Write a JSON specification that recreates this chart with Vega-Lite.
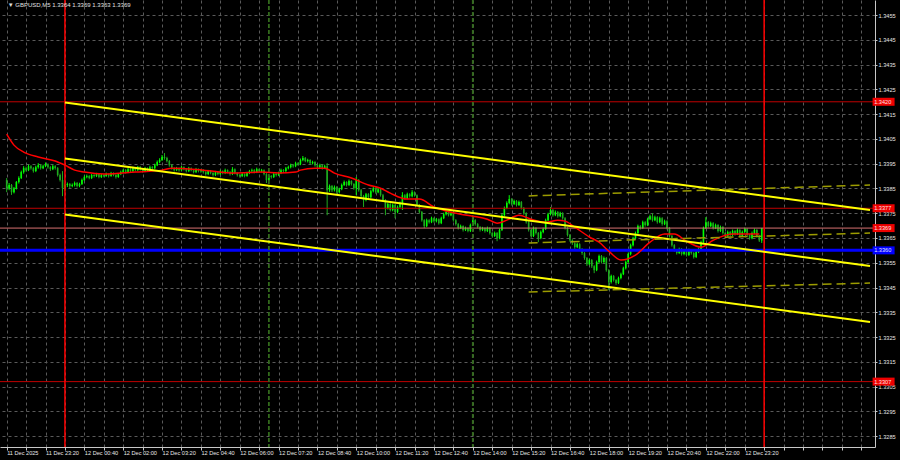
{
"$schema":"https://vega.github.io/schema/vega-lite/v6.json",
"width":875,"height":447,
"autosize":{"type":"none"},
"padding":{"left":0,"top":0,"right":25,"bottom":13},
"background":"#000000",
"view":{"stroke":null},
"config":{"axis":{"domainColor":"#c8c8c8","tickColor":"#c8c8c8","labelColor":"#e6e6e6","gridColor":"#5a5a5a","gridDash":[3,3],"gridWidth":1,"labelFont":"Liberation Sans","labelFontSize":5.6,"titleFontSize":0,"labelOverlap":false,"labelFlush":false,"labelBound":false}},
"datasets":{
"k":[
{"i":0,"o":1.33884,"h":1.33892,"l":1.33835,"c":1.33851},
{"i":1,"o":1.33851,"h":1.33872,"l":1.33843,"c":1.33864},
{"i":2,"o":1.33864,"h":1.33868,"l":1.33824,"c":1.33835},
{"i":3,"o":1.33835,"h":1.33856,"l":1.3383,"c":1.33851},
{"i":4,"o":1.33851,"h":1.3388,"l":1.33846,"c":1.33876},
{"i":5,"o":1.33876,"h":1.33899,"l":1.3387,"c":1.33892},
{"i":6,"o":1.33892,"h":1.33922,"l":1.33888,"c":1.33916},
{"i":7,"o":1.33916,"h":1.3394,"l":1.3391,"c":1.33932},
{"i":8,"o":1.33932,"h":1.33938,"l":1.33918,"c":1.33924},
{"i":9,"o":1.33924,"h":1.33946,"l":1.3392,"c":1.3394},
{"i":10,"o":1.3394,"h":1.33944,"l":1.33926,"c":1.33932},
{"i":11,"o":1.33932,"h":1.33936,"l":1.33914,"c":1.3392},
{"i":12,"o":1.3392,"h":1.33942,"l":1.33916,"c":1.33936},
{"i":13,"o":1.33936,"h":1.33952,"l":1.3393,"c":1.33944},
{"i":14,"o":1.33944,"h":1.33948,"l":1.33926,"c":1.33932},
{"i":15,"o":1.33932,"h":1.33946,"l":1.33928,"c":1.3394},
{"i":16,"o":1.3394,"h":1.33955,"l":1.33936,"c":1.33948},
{"i":17,"o":1.33948,"h":1.33951,"l":1.3393,"c":1.33936},
{"i":18,"o":1.33936,"h":1.3394,"l":1.33921,"c":1.33928},
{"i":19,"o":1.33928,"h":1.33945,"l":1.33924,"c":1.3394},
{"i":20,"o":1.3394,"h":1.33944,"l":1.33926,"c":1.33932},
{"i":21,"o":1.33932,"h":1.33936,"l":1.33898,"c":1.33904},
{"i":22,"o":1.33904,"h":1.3391,"l":1.33878,"c":1.33884},
{"i":23,"o":1.33884,"h":1.3392,"l":1.33819,"c":1.33851},
{"i":24,"o":1.33851,"h":1.3387,"l":1.3384,"c":1.33864},
{"i":25,"o":1.33864,"h":1.33874,"l":1.33856,"c":1.33868},
{"i":26,"o":1.33868,"h":1.33872,"l":1.33852,"c":1.3386},
{"i":27,"o":1.3386,"h":1.3387,"l":1.33855,"c":1.33864},
{"i":28,"o":1.33864,"h":1.33878,"l":1.33858,"c":1.33872},
{"i":29,"o":1.33872,"h":1.33876,"l":1.33854,"c":1.3386},
{"i":30,"o":1.3386,"h":1.33873,"l":1.33855,"c":1.33868},
{"i":31,"o":1.33868,"h":1.3389,"l":1.33864,"c":1.33884},
{"i":32,"o":1.33884,"h":1.33902,"l":1.3388,"c":1.33896},
{"i":33,"o":1.33896,"h":1.33906,"l":1.33891,"c":1.339},
{"i":34,"o":1.339,"h":1.33904,"l":1.33887,"c":1.33892},
{"i":35,"o":1.33892,"h":1.33909,"l":1.33888,"c":1.33904},
{"i":36,"o":1.33904,"h":1.33908,"l":1.33894,"c":1.339},
{"i":37,"o":1.339,"h":1.33913,"l":1.33896,"c":1.33908},
{"i":38,"o":1.33908,"h":1.33911,"l":1.33891,"c":1.33896},
{"i":39,"o":1.33896,"h":1.33909,"l":1.33892,"c":1.33904},
{"i":40,"o":1.33904,"h":1.33907,"l":1.33895,"c":1.339},
{"i":41,"o":1.339,"h":1.33914,"l":1.33897,"c":1.33908},
{"i":42,"o":1.33908,"h":1.33911,"l":1.33894,"c":1.339},
{"i":43,"o":1.339,"h":1.33917,"l":1.33897,"c":1.33912},
{"i":44,"o":1.33912,"h":1.33915,"l":1.33899,"c":1.33904},
{"i":45,"o":1.33904,"h":1.33908,"l":1.3389,"c":1.33896},
{"i":46,"o":1.33896,"h":1.33912,"l":1.33893,"c":1.33908},
{"i":47,"o":1.33908,"h":1.33922,"l":1.33904,"c":1.33916},
{"i":48,"o":1.33916,"h":1.33929,"l":1.33911,"c":1.33924},
{"i":49,"o":1.33924,"h":1.33928,"l":1.3391,"c":1.33916},
{"i":50,"o":1.33916,"h":1.33934,"l":1.33912,"c":1.33928},
{"i":51,"o":1.33928,"h":1.33932,"l":1.33915,"c":1.3392},
{"i":52,"o":1.3392,"h":1.33938,"l":1.33916,"c":1.33932},
{"i":53,"o":1.33932,"h":1.33936,"l":1.33919,"c":1.33924},
{"i":54,"o":1.33924,"h":1.33941,"l":1.3392,"c":1.33936},
{"i":55,"o":1.33936,"h":1.3394,"l":1.33922,"c":1.33928},
{"i":56,"o":1.33928,"h":1.33931,"l":1.33914,"c":1.3392},
{"i":57,"o":1.3392,"h":1.33937,"l":1.33916,"c":1.33932},
{"i":58,"o":1.33932,"h":1.33935,"l":1.33919,"c":1.33924},
{"i":59,"o":1.33924,"h":1.33942,"l":1.3392,"c":1.33936},
{"i":60,"o":1.33936,"h":1.3394,"l":1.33926,"c":1.33932},
{"i":61,"o":1.33932,"h":1.3395,"l":1.33928,"c":1.33944},
{"i":62,"o":1.33944,"h":1.33963,"l":1.3394,"c":1.33957},
{"i":63,"o":1.33957,"h":1.33972,"l":1.33952,"c":1.33965},
{"i":64,"o":1.33965,"h":1.33985,"l":1.33961,"c":1.33977},
{"i":65,"o":1.33977,"h":1.33993,"l":1.33966,"c":1.33973},
{"i":66,"o":1.33973,"h":1.33978,"l":1.33955,"c":1.33961},
{"i":67,"o":1.33961,"h":1.33965,"l":1.33938,"c":1.33944},
{"i":68,"o":1.33944,"h":1.33948,"l":1.33926,"c":1.33932},
{"i":69,"o":1.33932,"h":1.33936,"l":1.33918,"c":1.33924},
{"i":70,"o":1.33924,"h":1.33937,"l":1.3392,"c":1.33932},
{"i":71,"o":1.33932,"h":1.33935,"l":1.33918,"c":1.33924},
{"i":72,"o":1.33924,"h":1.33941,"l":1.3392,"c":1.33936},
{"i":73,"o":1.33936,"h":1.33939,"l":1.33923,"c":1.33928},
{"i":74,"o":1.33928,"h":1.33932,"l":1.33915,"c":1.3392},
{"i":75,"o":1.3392,"h":1.33937,"l":1.33916,"c":1.33932},
{"i":76,"o":1.33932,"h":1.33935,"l":1.33919,"c":1.33924},
{"i":77,"o":1.33924,"h":1.33928,"l":1.33911,"c":1.33916},
{"i":78,"o":1.33916,"h":1.33933,"l":1.33912,"c":1.33928},
{"i":79,"o":1.33928,"h":1.33931,"l":1.33915,"c":1.3392},
{"i":80,"o":1.3392,"h":1.33929,"l":1.33914,"c":1.33924},
{"i":81,"o":1.33924,"h":1.33928,"l":1.3391,"c":1.33916},
{"i":82,"o":1.33916,"h":1.3392,"l":1.33902,"c":1.33908},
{"i":83,"o":1.33908,"h":1.33925,"l":1.33904,"c":1.3392},
{"i":84,"o":1.3392,"h":1.33924,"l":1.33907,"c":1.33912},
{"i":85,"o":1.33912,"h":1.33916,"l":1.33898,"c":1.33904},
{"i":86,"o":1.33904,"h":1.33921,"l":1.339,"c":1.33916},
{"i":87,"o":1.33916,"h":1.33919,"l":1.33903,"c":1.33908},
{"i":88,"o":1.33908,"h":1.33925,"l":1.33904,"c":1.3392},
{"i":89,"o":1.3392,"h":1.33923,"l":1.33907,"c":1.33912},
{"i":90,"o":1.33912,"h":1.3393,"l":1.33908,"c":1.33924},
{"i":91,"o":1.33924,"h":1.33927,"l":1.33911,"c":1.33916},
{"i":92,"o":1.33916,"h":1.3392,"l":1.33902,"c":1.33908},
{"i":93,"o":1.33908,"h":1.33936,"l":1.33904,"c":1.33928},
{"i":94,"o":1.33928,"h":1.33931,"l":1.33907,"c":1.33912},
{"i":95,"o":1.33912,"h":1.33916,"l":1.33898,"c":1.33904},
{"i":96,"o":1.33904,"h":1.33908,"l":1.33894,"c":1.339},
{"i":97,"o":1.339,"h":1.33913,"l":1.33896,"c":1.33908},
{"i":98,"o":1.33908,"h":1.33911,"l":1.33895,"c":1.339},
{"i":99,"o":1.339,"h":1.33917,"l":1.33897,"c":1.33912},
{"i":100,"o":1.33912,"h":1.33925,"l":1.33908,"c":1.3392},
{"i":101,"o":1.3392,"h":1.3393,"l":1.33915,"c":1.33924},
{"i":102,"o":1.33924,"h":1.33928,"l":1.33911,"c":1.33916},
{"i":103,"o":1.33916,"h":1.33934,"l":1.33912,"c":1.33928},
{"i":104,"o":1.33928,"h":1.33931,"l":1.33915,"c":1.3392},
{"i":105,"o":1.3392,"h":1.33929,"l":1.33915,"c":1.33924},
{"i":106,"o":1.33924,"h":1.33927,"l":1.33903,"c":1.33908},
{"i":107,"o":1.33908,"h":1.33912,"l":1.33872,"c":1.33884},
{"i":108,"o":1.33884,"h":1.33905,"l":1.3388,"c":1.339},
{"i":109,"o":1.339,"h":1.33904,"l":1.3389,"c":1.33896},
{"i":110,"o":1.33896,"h":1.33913,"l":1.33892,"c":1.33908},
{"i":111,"o":1.33908,"h":1.33912,"l":1.33898,"c":1.33904},
{"i":112,"o":1.33904,"h":1.33918,"l":1.339,"c":1.33912},
{"i":113,"o":1.33912,"h":1.3393,"l":1.33908,"c":1.33924},
{"i":114,"o":1.33924,"h":1.33928,"l":1.33914,"c":1.3392},
{"i":115,"o":1.3392,"h":1.33937,"l":1.33916,"c":1.33932},
{"i":116,"o":1.33932,"h":1.33942,"l":1.33927,"c":1.33936},
{"i":117,"o":1.33936,"h":1.3395,"l":1.33931,"c":1.33944},
{"i":118,"o":1.33944,"h":1.33948,"l":1.33934,"c":1.3394},
{"i":119,"o":1.3394,"h":1.33958,"l":1.33936,"c":1.33952},
{"i":120,"o":1.33952,"h":1.33956,"l":1.33942,"c":1.33948},
{"i":121,"o":1.33948,"h":1.33971,"l":1.33944,"c":1.33965},
{"i":122,"o":1.33965,"h":1.33981,"l":1.3396,"c":1.33973},
{"i":123,"o":1.33973,"h":1.33977,"l":1.33956,"c":1.33961},
{"i":124,"o":1.33961,"h":1.3397,"l":1.33955,"c":1.33965},
{"i":125,"o":1.33965,"h":1.33968,"l":1.33947,"c":1.33952},
{"i":126,"o":1.33952,"h":1.33962,"l":1.33947,"c":1.33957},
{"i":127,"o":1.33957,"h":1.3396,"l":1.33938,"c":1.33944},
{"i":128,"o":1.33944,"h":1.33948,"l":1.3393,"c":1.33936},
{"i":129,"o":1.33936,"h":1.3395,"l":1.33932,"c":1.33944},
{"i":130,"o":1.33944,"h":1.33947,"l":1.33926,"c":1.33932},
{"i":131,"o":1.33932,"h":1.33946,"l":1.33928,"c":1.3394},
{"i":132,"o":1.3394,"h":1.33952,"l":1.33742,"c":1.33843},
{"i":133,"o":1.33843,"h":1.33866,"l":1.33836,"c":1.3386},
{"i":134,"o":1.3386,"h":1.33864,"l":1.33836,"c":1.33843},
{"i":135,"o":1.33843,"h":1.33862,"l":1.33838,"c":1.33856},
{"i":136,"o":1.33856,"h":1.3386,"l":1.33828,"c":1.33835},
{"i":137,"o":1.33835,"h":1.33853,"l":1.3383,"c":1.33847},
{"i":138,"o":1.33847,"h":1.3387,"l":1.33843,"c":1.33864},
{"i":139,"o":1.33864,"h":1.33882,"l":1.3386,"c":1.33876},
{"i":140,"o":1.33876,"h":1.33879,"l":1.33858,"c":1.33864},
{"i":141,"o":1.33864,"h":1.33886,"l":1.3386,"c":1.3388},
{"i":142,"o":1.3388,"h":1.33883,"l":1.33862,"c":1.33868},
{"i":143,"o":1.33868,"h":1.33871,"l":1.33845,"c":1.33851},
{"i":144,"o":1.33851,"h":1.33896,"l":1.33823,"c":1.33884},
{"i":145,"o":1.33884,"h":1.33888,"l":1.33837,"c":1.33843},
{"i":146,"o":1.33843,"h":1.33848,"l":1.33812,"c":1.33819},
{"i":147,"o":1.33819,"h":1.33824,"l":1.33775,"c":1.33803},
{"i":148,"o":1.33803,"h":1.33832,"l":1.33798,"c":1.33827},
{"i":149,"o":1.33827,"h":1.33831,"l":1.33809,"c":1.33815},
{"i":150,"o":1.33815,"h":1.33845,"l":1.33811,"c":1.33839},
{"i":151,"o":1.33839,"h":1.33857,"l":1.33834,"c":1.33851},
{"i":152,"o":1.33851,"h":1.33855,"l":1.33829,"c":1.33835},
{"i":153,"o":1.33835,"h":1.33852,"l":1.33831,"c":1.33847},
{"i":154,"o":1.33847,"h":1.3385,"l":1.33817,"c":1.33823},
{"i":155,"o":1.33823,"h":1.33828,"l":1.33797,"c":1.33803},
{"i":156,"o":1.33803,"h":1.33807,"l":1.33742,"c":1.33771},
{"i":157,"o":1.33771,"h":1.33793,"l":1.33765,"c":1.33787},
{"i":158,"o":1.33787,"h":1.33791,"l":1.33757,"c":1.33763},
{"i":159,"o":1.33763,"h":1.33789,"l":1.33758,"c":1.33783},
{"i":160,"o":1.33783,"h":1.33787,"l":1.3373,"c":1.33755},
{"i":161,"o":1.33755,"h":1.33781,"l":1.3375,"c":1.33775},
{"i":162,"o":1.33775,"h":1.33797,"l":1.3377,"c":1.33791},
{"i":163,"o":1.33791,"h":1.33835,"l":1.33763,"c":1.33823},
{"i":164,"o":1.33823,"h":1.33827,"l":1.33805,"c":1.33811},
{"i":165,"o":1.33811,"h":1.33833,"l":1.33806,"c":1.33827},
{"i":166,"o":1.33827,"h":1.33831,"l":1.33813,"c":1.33819},
{"i":167,"o":1.33819,"h":1.33843,"l":1.33814,"c":1.33835},
{"i":168,"o":1.33835,"h":1.33838,"l":1.33817,"c":1.33823},
{"i":169,"o":1.33823,"h":1.33826,"l":1.33777,"c":1.33783},
{"i":170,"o":1.33783,"h":1.33787,"l":1.33749,"c":1.33755},
{"i":171,"o":1.33755,"h":1.33759,"l":1.33716,"c":1.33722},
{"i":172,"o":1.33722,"h":1.33726,"l":1.3369,"c":1.33698},
{"i":173,"o":1.33698,"h":1.33728,"l":1.33694,"c":1.33722},
{"i":174,"o":1.33722,"h":1.33726,"l":1.33708,"c":1.33714},
{"i":175,"o":1.33714,"h":1.33736,"l":1.3371,"c":1.3373},
{"i":176,"o":1.3373,"h":1.33733,"l":1.33712,"c":1.33718},
{"i":177,"o":1.33718,"h":1.33731,"l":1.33713,"c":1.33726},
{"i":178,"o":1.33726,"h":1.33729,"l":1.33704,"c":1.3371},
{"i":179,"o":1.3371,"h":1.33736,"l":1.33706,"c":1.3373},
{"i":180,"o":1.3373,"h":1.33752,"l":1.33726,"c":1.33746},
{"i":181,"o":1.33746,"h":1.33761,"l":1.33741,"c":1.33755},
{"i":182,"o":1.33755,"h":1.33759,"l":1.33737,"c":1.33742},
{"i":183,"o":1.33742,"h":1.33756,"l":1.33738,"c":1.3375},
{"i":184,"o":1.3375,"h":1.33753,"l":1.33716,"c":1.33722},
{"i":185,"o":1.33722,"h":1.33726,"l":1.337,"c":1.33706},
{"i":186,"o":1.33706,"h":1.3371,"l":1.33684,"c":1.3369},
{"i":187,"o":1.3369,"h":1.33704,"l":1.33686,"c":1.33698},
{"i":188,"o":1.33698,"h":1.33701,"l":1.33676,"c":1.33682},
{"i":189,"o":1.33682,"h":1.33696,"l":1.33678,"c":1.3369},
{"i":190,"o":1.3369,"h":1.33693,"l":1.33673,"c":1.33678},
{"i":191,"o":1.33678,"h":1.33708,"l":1.33674,"c":1.33702},
{"i":192,"o":1.33702,"h":1.33742,"l":1.33698,"c":1.33722},
{"i":193,"o":1.33722,"h":1.33726,"l":1.337,"c":1.33706},
{"i":194,"o":1.33706,"h":1.3371,"l":1.33689,"c":1.33694},
{"i":195,"o":1.33694,"h":1.33698,"l":1.33676,"c":1.33682},
{"i":196,"o":1.33682,"h":1.33695,"l":1.33678,"c":1.3369},
{"i":197,"o":1.3369,"h":1.33693,"l":1.33672,"c":1.33678},
{"i":198,"o":1.33678,"h":1.33696,"l":1.33674,"c":1.3369},
{"i":199,"o":1.3369,"h":1.33694,"l":1.33664,"c":1.3367},
{"i":200,"o":1.3367,"h":1.33674,"l":1.33652,"c":1.33658},
{"i":201,"o":1.33658,"h":1.33676,"l":1.33654,"c":1.3367},
{"i":202,"o":1.3367,"h":1.33674,"l":1.33637,"c":1.33649},
{"i":203,"o":1.33649,"h":1.33688,"l":1.33645,"c":1.33682},
{"i":204,"o":1.33682,"h":1.33748,"l":1.33678,"c":1.33742},
{"i":205,"o":1.33742,"h":1.33777,"l":1.33737,"c":1.33771},
{"i":206,"o":1.33771,"h":1.33798,"l":1.33766,"c":1.33791},
{"i":207,"o":1.33791,"h":1.33823,"l":1.33786,"c":1.33807},
{"i":208,"o":1.33807,"h":1.33811,"l":1.33781,"c":1.33787},
{"i":209,"o":1.33787,"h":1.33805,"l":1.33783,"c":1.33799},
{"i":210,"o":1.33799,"h":1.33803,"l":1.33777,"c":1.33783},
{"i":211,"o":1.33783,"h":1.33801,"l":1.33779,"c":1.33795},
{"i":212,"o":1.33795,"h":1.33799,"l":1.33765,"c":1.33771},
{"i":213,"o":1.33771,"h":1.33775,"l":1.33744,"c":1.3375},
{"i":214,"o":1.3375,"h":1.33754,"l":1.33708,"c":1.33714},
{"i":215,"o":1.33714,"h":1.33718,"l":1.33676,"c":1.33682},
{"i":216,"o":1.33682,"h":1.33686,"l":1.33652,"c":1.33658},
{"i":217,"o":1.33658,"h":1.33696,"l":1.33654,"c":1.3369},
{"i":218,"o":1.3369,"h":1.33694,"l":1.33664,"c":1.3367},
{"i":219,"o":1.3367,"h":1.33674,"l":1.33633,"c":1.33649},
{"i":220,"o":1.33649,"h":1.3368,"l":1.33645,"c":1.33674},
{"i":221,"o":1.33674,"h":1.33692,"l":1.33669,"c":1.33686},
{"i":222,"o":1.33686,"h":1.33728,"l":1.33682,"c":1.33722},
{"i":223,"o":1.33722,"h":1.33752,"l":1.33718,"c":1.33746},
{"i":224,"o":1.33746,"h":1.33775,"l":1.33741,"c":1.33763},
{"i":225,"o":1.33763,"h":1.33767,"l":1.33736,"c":1.33742},
{"i":226,"o":1.33742,"h":1.33761,"l":1.33738,"c":1.33755},
{"i":227,"o":1.33755,"h":1.33759,"l":1.33732,"c":1.33738},
{"i":228,"o":1.33738,"h":1.33756,"l":1.33734,"c":1.3375},
{"i":229,"o":1.3375,"h":1.33754,"l":1.33724,"c":1.3373},
{"i":230,"o":1.3373,"h":1.33734,"l":1.33684,"c":1.3369},
{"i":231,"o":1.3369,"h":1.33694,"l":1.33656,"c":1.33662},
{"i":232,"o":1.33662,"h":1.33666,"l":1.33635,"c":1.33641},
{"i":233,"o":1.33641,"h":1.33645,"l":1.33622,"c":1.33629},
{"i":234,"o":1.33629,"h":1.33633,"l":1.33606,"c":1.33613},
{"i":235,"o":1.33613,"h":1.33631,"l":1.33609,"c":1.33625},
{"i":236,"o":1.33625,"h":1.33629,"l":1.33598,"c":1.33605},
{"i":237,"o":1.33605,"h":1.33609,"l":1.33582,"c":1.33589},
{"i":238,"o":1.33589,"h":1.33593,"l":1.33562,"c":1.33569},
{"i":239,"o":1.33569,"h":1.33573,"l":1.33537,"c":1.33544},
{"i":240,"o":1.33544,"h":1.33567,"l":1.3354,"c":1.33561},
{"i":241,"o":1.33561,"h":1.33565,"l":1.33529,"c":1.33536},
{"i":242,"o":1.33536,"h":1.3354,"l":1.33508,"c":1.3352},
{"i":243,"o":1.3352,"h":1.33559,"l":1.33516,"c":1.33553},
{"i":244,"o":1.33553,"h":1.33583,"l":1.33548,"c":1.33577},
{"i":245,"o":1.33577,"h":1.33581,"l":1.33547,"c":1.33553},
{"i":246,"o":1.33553,"h":1.33575,"l":1.33548,"c":1.33569},
{"i":247,"o":1.33569,"h":1.33573,"l":1.33514,"c":1.3352},
{"i":248,"o":1.3352,"h":1.33524,"l":1.33439,"c":1.33472},
{"i":249,"o":1.33472,"h":1.33502,"l":1.33466,"c":1.33496},
{"i":250,"o":1.33496,"h":1.335,"l":1.33474,"c":1.3348},
{"i":251,"o":1.3348,"h":1.33484,"l":1.33461,"c":1.33468},
{"i":252,"o":1.33468,"h":1.33494,"l":1.33464,"c":1.33488},
{"i":253,"o":1.33488,"h":1.3351,"l":1.33483,"c":1.33504},
{"i":254,"o":1.33504,"h":1.33534,"l":1.335,"c":1.33528},
{"i":255,"o":1.33528,"h":1.33559,"l":1.33523,"c":1.33553},
{"i":256,"o":1.33553,"h":1.33591,"l":1.33549,"c":1.33585},
{"i":257,"o":1.33585,"h":1.33627,"l":1.3358,"c":1.33621},
{"i":258,"o":1.33621,"h":1.33655,"l":1.33616,"c":1.33649},
{"i":259,"o":1.33649,"h":1.33676,"l":1.33644,"c":1.3367},
{"i":260,"o":1.3367,"h":1.33704,"l":1.33666,"c":1.33698},
{"i":261,"o":1.33698,"h":1.33702,"l":1.33684,"c":1.3369},
{"i":262,"o":1.3369,"h":1.3372,"l":1.33686,"c":1.33714},
{"i":263,"o":1.33714,"h":1.33718,"l":1.33696,"c":1.33702},
{"i":264,"o":1.33702,"h":1.33732,"l":1.33698,"c":1.33726},
{"i":265,"o":1.33726,"h":1.33744,"l":1.33722,"c":1.33738},
{"i":266,"o":1.33738,"h":1.3375,"l":1.33716,"c":1.33722},
{"i":267,"o":1.33722,"h":1.3374,"l":1.33718,"c":1.33734},
{"i":268,"o":1.33734,"h":1.33738,"l":1.33708,"c":1.33714},
{"i":269,"o":1.33714,"h":1.33736,"l":1.3371,"c":1.3373},
{"i":270,"o":1.3373,"h":1.33734,"l":1.337,"c":1.33706},
{"i":271,"o":1.33706,"h":1.33724,"l":1.33702,"c":1.33718},
{"i":272,"o":1.33718,"h":1.33722,"l":1.33684,"c":1.3369},
{"i":273,"o":1.3369,"h":1.33694,"l":1.33652,"c":1.33658},
{"i":274,"o":1.33658,"h":1.33662,"l":1.33615,"c":1.33621},
{"i":275,"o":1.33621,"h":1.33625,"l":1.33595,"c":1.33601},
{"i":276,"o":1.33601,"h":1.33605,"l":1.33583,"c":1.33589},
{"i":277,"o":1.33589,"h":1.33611,"l":1.33585,"c":1.33605},
{"i":278,"o":1.33605,"h":1.33609,"l":1.33579,"c":1.33585},
{"i":279,"o":1.33585,"h":1.33603,"l":1.3358,"c":1.33597},
{"i":280,"o":1.33597,"h":1.33601,"l":1.33575,"c":1.33581},
{"i":281,"o":1.33581,"h":1.33607,"l":1.33577,"c":1.33601},
{"i":282,"o":1.33601,"h":1.33605,"l":1.33583,"c":1.33589},
{"i":283,"o":1.33589,"h":1.33593,"l":1.33567,"c":1.33573},
{"i":284,"o":1.33573,"h":1.33599,"l":1.33569,"c":1.33593},
{"i":285,"o":1.33593,"h":1.33611,"l":1.33589,"c":1.33605},
{"i":286,"o":1.33605,"h":1.33639,"l":1.336,"c":1.33633},
{"i":287,"o":1.33633,"h":1.33696,"l":1.33628,"c":1.3369},
{"i":288,"o":1.3369,"h":1.33734,"l":1.33686,"c":1.33714},
{"i":289,"o":1.33714,"h":1.33718,"l":1.33692,"c":1.33698},
{"i":290,"o":1.33698,"h":1.33716,"l":1.33694,"c":1.3371},
{"i":291,"o":1.3371,"h":1.33714,"l":1.33684,"c":1.3369},
{"i":292,"o":1.3369,"h":1.33708,"l":1.33686,"c":1.33702},
{"i":293,"o":1.33702,"h":1.33706,"l":1.33672,"c":1.33678},
{"i":294,"o":1.33678,"h":1.337,"l":1.33674,"c":1.33694},
{"i":295,"o":1.33694,"h":1.33698,"l":1.33664,"c":1.3367},
{"i":296,"o":1.3367,"h":1.33674,"l":1.33652,"c":1.33658},
{"i":297,"o":1.33658,"h":1.3368,"l":1.33654,"c":1.33674},
{"i":298,"o":1.33674,"h":1.33678,"l":1.33656,"c":1.33662},
{"i":299,"o":1.33662,"h":1.33684,"l":1.33658,"c":1.33678},
{"i":300,"o":1.33678,"h":1.33682,"l":1.3366,"c":1.33666},
{"i":301,"o":1.33666,"h":1.33688,"l":1.33662,"c":1.33682},
{"i":302,"o":1.33682,"h":1.33686,"l":1.33652,"c":1.33658},
{"i":303,"o":1.33658,"h":1.3368,"l":1.33654,"c":1.33674},
{"i":304,"o":1.33674,"h":1.33692,"l":1.3367,"c":1.33686},
{"i":305,"o":1.33686,"h":1.3369,"l":1.33656,"c":1.33662},
{"i":306,"o":1.33662,"h":1.33666,"l":1.33643,"c":1.33649},
{"i":307,"o":1.33649,"h":1.33676,"l":1.33645,"c":1.3367},
{"i":308,"o":1.3367,"h":1.33688,"l":1.33666,"c":1.33682},
{"i":309,"o":1.33682,"h":1.33686,"l":1.33652,"c":1.33658},
{"i":310,"o":1.33658,"h":1.33662,"l":1.33634,"c":1.3364},
{"i":311,"o":1.3364,"h":1.3369,"l":1.3363,"c":1.3369}
],
"ma":[
{"i":0,"p":1.34069},{"i":3,"p":1.34025},{"i":7,"p":1.33997},{"i":13,"p":1.33977},{"i":20,"p":1.33961},{"i":24,"p":1.33944},{"i":28,"p":1.33924},{"i":32,"p":1.33916},{"i":40,"p":1.33908},{"i":53,"p":1.33916},{"i":64,"p":1.33924},{"i":68,"p":1.33932},{"i":81,"p":1.33924},{"i":94,"p":1.33912},{"i":105,"p":1.33916},{"i":112,"p":1.33912},{"i":119,"p":1.33916},{"i":121,"p":1.33924},{"i":127,"p":1.33932},{"i":131,"p":1.33932},{"i":135,"p":1.33912},{"i":142,"p":1.33892},{"i":149,"p":1.33864},{"i":154,"p":1.33851},{"i":158,"p":1.33831},{"i":165,"p":1.33807},{"i":170,"p":1.33807},{"i":176,"p":1.33775},{"i":181,"p":1.33759},{"i":187,"p":1.33746},{"i":192,"p":1.33738},{"i":198,"p":1.33726},{"i":202,"p":1.3371},{"i":206,"p":1.33722},{"i":211,"p":1.33742},{"i":216,"p":1.33726},{"i":222,"p":1.33714},{"i":227,"p":1.33722},{"i":230,"p":1.33718},{"i":234,"p":1.33694},{"i":240,"p":1.33654},{"i":244,"p":1.33633},{"i":248,"p":1.33597},{"i":253,"p":1.33561},{"i":259,"p":1.33581},{"i":265,"p":1.33633},{"i":271,"p":1.33666},{"i":275,"p":1.33666},{"i":280,"p":1.33637},{"i":286,"p":1.33613},{"i":291,"p":1.33641},{"i":299,"p":1.33666},{"i":310,"p":1.33666}
],
"channel":[
{"s":"upper","i":24,"p":1.34197},{"s":"upper","i":355.6,"p":1.33763},
{"s":"middle","i":24,"p":1.33971},{"s":"middle","i":355.6,"p":1.33537},
{"s":"lower","i":24,"p":1.33745},{"s":"lower","i":355.6,"p":1.33311}
],
"proj":[
{"s":"a","i":215,"p":1.3382},{"s":"a","i":355.6,"p":1.33864},
{"s":"b","i":215,"p":1.3363},{"s":"b","i":355.6,"p":1.3367},
{"s":"c","i":215,"p":1.33432},{"s":"c","i":355.6,"p":1.33468}
],
"redlevels":[{"p":1.342},{"p":1.3377},{"p":1.3307}],
"bidlevel":[{"p":1.3369}],
"bluelevel":[{"p":1.336}],
"redtags":[{"p":1.342},{"p":1.3377},{"p":1.3369},{"p":1.3307}],
"bluetags":[{"p":1.336}],
"days":[{"i":24},{"i":312}],
"sessions":[{"i":108},{"i":192}]
},
"layer":[
{"data":{"name":"k"},"mark":{"type":"rule","strokeWidth":1},
 "encoding":{
  "x":{"field":"i","type":"quantitative","title":null,"scale":{"domain":[-0.69,355.6],"nice":false,"zero":false},
   "axis":{"values":[0,8,16,24,32,40,48,56,64,72,80,88,96,104,112,120,128,136,144,152,160,168,176,184,192,200,208,216,224,232,240,248,256,264,272,280,288,296,304,312,320,328,336,344,352],
     "tickCount":100,
     "labelExpr":"datum.value == 0 ? '11 Dec 2025' : ((datum.value % 16 == 0 && datum.value <= 304) ? utcFormat(utc(2025, 11, 11, 22, 0) + datum.value * 300000, '%d %b %H:%M') : '')",
     "labelAlign":"left","labelBaseline":"top","labelPadding":0,"tickSize":3,"labelOverlap":false,"labelFlush":false,"grid":true}},
  "y":{"field":"l","type":"quantitative","title":null,"scale":{"domain":[1.32806,1.34611],"nice":false,"zero":false},
   "axis":{"orient":"right","values":[1.3285,1.3295,1.3305,1.3315,1.3325,1.3335,1.3345,1.3355,1.3365,1.3375,1.3385,1.3395,1.3405,1.3415,1.3425,1.3435,1.3445,1.3455],
     "tickCount":100,
     "format":".4f","labelAlign":"left","labelPadding":1,"tickSize":2,"labelOverlap":false,"labelFlush":false,"grid":true}},
  "y2":{"field":"h"},
  "color":{"condition":{"test":"datum.c >= datum.o","value":"#00ff00"},"value":"#1faa1f"}
 }},
{"data":{"name":"k"},"mark":{"type":"bar","size":1.6},
 "encoding":{
  "x":{"field":"i","type":"quantitative","title":null},
  "y":{"field":"o","type":"quantitative","title":null},
  "y2":{"field":"c"},
  "color":{"condition":{"test":"datum.c >= datum.o","value":"#00ff00"},"value":"#1faa1f"}
 }},
{"data":{"name":"redlevels"},"mark":{"type":"rule","color":"#c00000","strokeWidth":1},
 "encoding":{"y":{"field":"p","type":"quantitative","title":null}}},
{"data":{"name":"bidlevel"},"mark":{"type":"rule","color":"#d87070","strokeWidth":1},
 "encoding":{"y":{"field":"p","type":"quantitative","title":null}}},
{"data":{"name":"bluelevel"},"mark":{"type":"rule","color":"#0000ff","strokeWidth":3},
 "encoding":{"y":{"field":"p","type":"quantitative","title":null}}},
{"data":{"name":"days"},"mark":{"type":"rule","color":"#ff0000","strokeWidth":1.5},
 "encoding":{"x":{"field":"i","type":"quantitative","title":null}}},
{"data":{"name":"sessions"},"mark":{"type":"rule","color":"#336b1c","strokeWidth":1.8,"strokeDash":[4,2]},
 "encoding":{"x":{"field":"i","type":"quantitative","title":null}}},
{"data":{"name":"ma"},"mark":{"type":"line","color":"#ff0000","strokeWidth":1.5,"interpolate":"monotone"},
 "encoding":{"x":{"field":"i","type":"quantitative","title":null},"y":{"field":"p","type":"quantitative","title":null}}},
{"data":{"name":"channel"},"mark":{"type":"line","color":"#ffff00","strokeWidth":2,"clip":true},
 "encoding":{"x":{"field":"i","type":"quantitative","title":null},"y":{"field":"p","type":"quantitative","title":null},"detail":{"field":"s"}}},
{"data":{"name":"proj"},"mark":{"type":"line","color":"#9c9c00","strokeWidth":1.5,"strokeDash":[9,5],"clip":true},
 "encoding":{"x":{"field":"i","type":"quantitative","title":null},"y":{"field":"p","type":"quantitative","title":null},"detail":{"field":"s"}}},
{"data":{"name":"redtags"},"mark":{"type":"tick","orient":"horizontal","size":22,"thickness":8,"color":"#ee0000","opacity":1},
 "encoding":{"x":{"datum":361.2,"type":"quantitative"},"y":{"field":"p","type":"quantitative","title":null}}},
{"data":{"name":"bluetags"},"mark":{"type":"tick","orient":"horizontal","size":22,"thickness":8,"color":"#0000ff","opacity":1},
 "encoding":{"x":{"datum":361.2,"type":"quantitative"},"y":{"field":"p","type":"quantitative","title":null}}},
{"data":{"name":"redtags"},"mark":{"type":"text","align":"left","baseline":"middle","font":"Liberation Sans","fontSize":5.6,"color":"#ffe0e0"},
 "encoding":{"x":{"datum":357.3,"type":"quantitative"},"y":{"field":"p","type":"quantitative","title":null},"text":{"field":"p","format":".4f"}}},
{"data":{"name":"bluetags"},"mark":{"type":"text","align":"left","baseline":"middle","font":"Liberation Sans","fontSize":5.6,"color":"#e0e0ff"},
 "encoding":{"x":{"datum":357.3,"type":"quantitative"},"y":{"field":"p","type":"quantitative","title":null},"text":{"field":"p","format":".4f"}}},
{"data":{"values":[{"t":"▼ GBPUSD,M5  1.3364 1.3369 1.3363 1.3369"}]},"mark":{"type":"text","align":"left","baseline":"middle","font":"Liberation Sans","fontSize":6,"color":"#e0e0e0"},
 "encoding":{"x":{"datum":0.4,"type":"quantitative"},"y":{"datum":1.3459,"type":"quantitative"},"text":{"field":"t"}}}
]
}
